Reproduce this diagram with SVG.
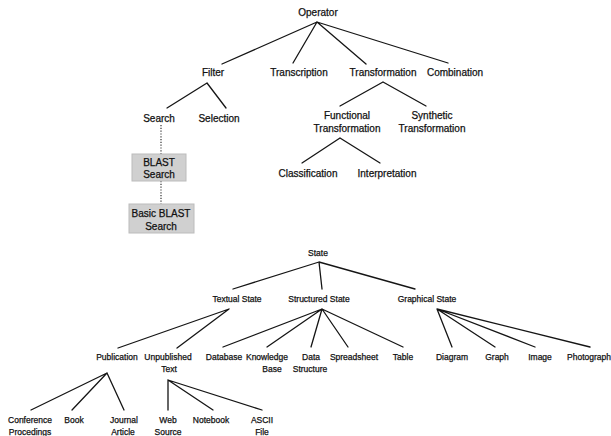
<svg xmlns="http://www.w3.org/2000/svg" width="611" height="436" viewBox="0 0 611 436">
  <style>
    text { font-family: "Liberation Sans", Arial, sans-serif; fill: #111; stroke: #111; stroke-width: 0.25; text-anchor: middle; }
    .t { font-size: 10px; }
    .b { font-size: 8.5px; }
    .edge { stroke: #151515; stroke-width: 1.3; fill: none; stroke-linecap: round; }
    .dot { stroke: #333; stroke-width: 1.2; stroke-dasharray: 1.2 1.6; fill: none; }
    .box { fill: #d0d0d0; stroke: #bcbcbc; stroke-width: 1; }
  </style>
  <rect width="611" height="436" fill="#ffffff"/>

  <!-- connectors -->
  <g id="connectors">
    <!-- Operator tree -->
    <path class="edge" d="M317,22 L222,64 M317,22 L293,63 M317,22 L366,64 M317,22 L448,63"/>
    <path class="edge" d="M207,83 L167,108 M207,83 L226,108"/>
    <path class="edge" d="M383,82 L340,106 M383,82 L426,106"/>
    <path class="edge" d="M340,138 L302,163 M340,138 L380,163"/>
    <path class="dot" d="M161,125 L161,154 M161,181 L161,204"/>
    <!-- State tree -->
    <path class="edge" d="M319,262 L233,289 M319,262 L322,289 M319,262 L415,289"/>
    <path class="edge" d="M229,309 L118,348 M229,309 L177,348"/>
    <path class="edge" d="M322,309 L223,347 M322,309 L267,347 M322,309 L311,347 M322,309 L348,347 M322,309 L403,347"/>
    <path class="edge" d="M437,309 L452,347 M437,309 L495,347 M437,309 L535,347 M437,309 L590,347"/>
    <path class="edge" d="M107,373 L31,410 M107,373 L72,410 M107,373 L124,410"/>
    <path class="edge" d="M168,380 L168,410 M168,380 L213,410 M168,380 L262,410"/>
  </g>

  <!-- Operator tree nodes -->
  <g id="operator"><text class="t" x="318" y="16">Operator</text></g>
  <g id="filter"><text class="t" x="213" y="76">Filter</text></g>
  <g id="transcription"><text class="t" x="299" y="76">Transcription</text></g>
  <g id="transformation"><text class="t" x="383" y="76">Transformation</text></g>
  <g id="combination"><text class="t" x="455" y="76">Combination</text></g>
  <g id="search"><text class="t" x="159" y="122">Search</text></g>
  <g id="selection"><text class="t" x="219" y="122">Selection</text></g>
  <g id="functional-transformation">
    <text class="t" x="347" y="119">Functional</text>
    <text class="t" x="347" y="132">Transformation</text>
  </g>
  <g id="synthetic-transformation">
    <text class="t" x="432" y="119">Synthetic</text>
    <text class="t" x="432" y="132">Transformation</text>
  </g>
  <g id="classification"><text class="t" x="308" y="177">Classification</text></g>
  <g id="interpretation"><text class="t" x="387" y="177">Interpretation</text></g>
  <g id="blast-search">
    <rect class="box" x="132" y="154" width="54" height="27"/>
    <text class="t" x="159" y="166">BLAST</text>
    <text class="t" x="159" y="178">Search</text>
  </g>
  <g id="basic-blast-search">
    <rect class="box" x="129" y="204" width="65" height="29"/>
    <text class="t" x="161" y="217">Basic BLAST</text>
    <text class="t" x="161" y="230">Search</text>
  </g>

  <!-- State tree nodes -->
  <g id="state"><text class="b" x="318" y="256">State</text></g>
  <g id="textual-state"><text class="b" x="237" y="302">Textual State</text></g>
  <g id="structured-state"><text class="b" x="319" y="302">Structured State</text></g>
  <g id="graphical-state"><text class="b" x="427" y="302">Graphical State</text></g>
  <g id="publication"><text class="b" x="117" y="360">Publication</text></g>
  <g id="unpublished-text">
    <text class="b" x="168" y="360">Unpublished</text>
    <text class="b" x="169" y="372">Text</text>
  </g>
  <g id="database"><text class="b" x="224" y="360">Database</text></g>
  <g id="knowledge-base">
    <text class="b" x="267" y="360">Knowledge</text>
    <text class="b" x="272" y="372">Base</text>
  </g>
  <g id="data-structure">
    <text class="b" x="311" y="360">Data</text>
    <text class="b" x="310" y="372">Structure</text>
  </g>
  <g id="spreadsheet"><text class="b" x="354" y="360">Spreadsheet</text></g>
  <g id="table"><text class="b" x="403" y="360">Table</text></g>
  <g id="diagram"><text class="b" x="452" y="360">Diagram</text></g>
  <g id="graph"><text class="b" x="497" y="360">Graph</text></g>
  <g id="image"><text class="b" x="540" y="360">Image</text></g>
  <g id="photograph"><text class="b" x="589" y="360">Photograph</text></g>
  <g id="conference-procedings">
    <text class="b" x="30" y="423">Conference</text>
    <text class="b" x="30" y="435">Procedings</text>
  </g>
  <g id="book"><text class="b" x="74" y="423">Book</text></g>
  <g id="journal-article">
    <text class="b" x="124" y="423">Journal</text>
    <text class="b" x="123" y="435">Article</text>
  </g>
  <g id="web-source">
    <text class="b" x="168" y="423">Web</text>
    <text class="b" x="168" y="435">Source</text>
  </g>
  <g id="notebook"><text class="b" x="211" y="423">Notebook</text></g>
  <g id="ascii-file">
    <text class="b" x="262" y="423">ASCII</text>
    <text class="b" x="262" y="435">File</text>
  </g>
</svg>
